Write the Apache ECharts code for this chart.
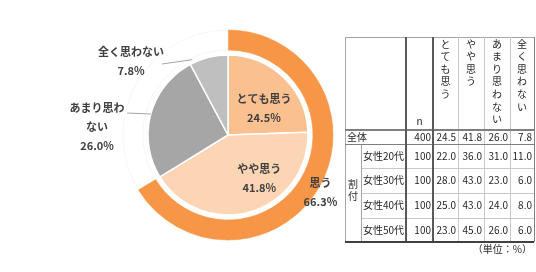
<!DOCTYPE html>
<html><head><meta charset="utf-8">
<script src="https://cdn.jsdelivr.net/npm/echarts@6/dist/echarts.min.js"></script>
<style>html,body{margin:0;padding:0;background:#fff}#c{width:536px;height:272px}</style>
</head><body><div id="c"></div>
<script>
// ---------- DATA ----------
const categories = ['とても思う', 'やや思う', 'あまり思わない', '全く思わない'];
const pieLabels = ['とても思う', 'やや思う', 'あまり思わ\nない', '全く思わない'];
const overall = [24.5, 41.8, 26.0, 7.8];
const ringNames = ['思う', ''];
const ringValues = [66.3, 33.7];
const overallName = '全体';
const overallN = 400;
const breakdownName = '割付';
const groups = ['女性20代', '女性30代', '女性40代', '女性50代'];
const groupN = [100, 100, 100, 100];
const female20 = [22.0, 36.0, 31.0, 11.0];
const female30 = [28.0, 43.0, 23.0, 6.0];
const female40 = [25.0, 43.0, 24.0, 8.0];
const female50 = [23.0, 45.0, 26.0, 6.0];
const nLabel = 'n';
const unitNote = '（単位：%）';

// ---------- STYLE / LAYOUT ----------
const FONT = "'Noto Sans CJK JP', sans-serif";
const INNER_COLORS = ['#FAC090', '#FCD5B5', '#A6A6A6', '#BFBFBF'];
const RING_COLORS = ['#F79646', '#FFFFFF'];
const PIE_CENTER = [228, 135];
const PIE_R = 80;
const INNER_LABEL_ADJ = [
  {dx: 6, dy: 4},
  {dx: 19, dy: 2},
  {x: 97, y: 127, align: 'center', verticalAlign: 'middle'},
  {x: 131, y: 61, align: 'center', verticalAlign: 'middle'}
];
// leader-line start offsets relative to label anchor, and fraction of the way to the slice edge
const LEADER = [null, null, {sx: 30, sy: -14, t: 1.0}, {sx: 31, sy: 3, t: 0.65}];
// table column / row edges in table units (grid spans 189 x 205)
const COL = [0, 16, 61, 88, 113, 139, 165, 189];
const ROW = [0, 93, 107, 131, 156, 181, 205];

const groupRows = [female20, female30, female40, female50];

// build cell list
const cells = [];
categories.forEach((c, i) => cells.push({c: 3 + i, r: 0, text: c.split('').join('\n'), align: 'center', valign: 'top', lh: 12.6}));
cells.push({c: 2, r: 0, text: nLabel, align: 'center', valign: 'bottom'});
cells.push({c: 0, c2: 2, r: 1, text: overallName, align: 'left'});
cells.push({c: 2, r: 1, text: String(overallN), align: 'right'});
overall.forEach((v, i) => cells.push({c: 3 + i, r: 1, text: v.toFixed(1), align: 'right'}));
cells.push({c: 0, r: 2, r2: 6, text: breakdownName.split('').join('\n'), align: 'center', lh: 12, dy: -3});
groups.forEach((g, gi) => {
  cells.push({c: 1, r: 2 + gi, text: g, align: 'left'});
  cells.push({c: 2, r: 2 + gi, text: String(groupN[gi]), align: 'right'});
  groupRows[gi].forEach((v, i) => cells.push({c: 3 + i, r: 2 + gi, text: v.toFixed(1), align: 'right'}));
});

const lines = [
  {x: [0, 7], y: [0, 0], color: '#a6a6a6', w: 1},
  {x: [0, 0], y: [0, 6], color: '#a6a6a6', w: 1},
  {x: [7, 7], y: [0, 6], color: '#7f7f7f', w: 1},
  {x: [4, 4], y: [0, 6], color: '#c8c8c8', w: 1},
  {x: [5, 5], y: [0, 6], color: '#c8c8c8', w: 1},
  {x: [6, 6], y: [0, 6], color: '#c8c8c8', w: 1},
  {x: [1, 7], y: [3, 3], color: '#c8c8c8', w: 1},
  {x: [1, 7], y: [4, 4], color: '#c8c8c8', w: 1},
  {x: [1, 7], y: [5, 5], color: '#c8c8c8', w: 1},
  {x: [1, 1], y: [2, 6], color: '#a6a6a6', w: 1},
  {x: [0, 7], y: [2, 2], color: '#7f7f7f', w: 1},
  {x: [0, 7], y: [1, 1], color: '#7f7f7f', w: 2},
  {x: [2, 2], y: [0, 6], color: '#595959', w: 2},
  {x: [3, 3], y: [0, 6], color: '#595959', w: 2},
  {x: [0, 7], y: [6, 6], color: '#404040', w: 2}
];

function crisp(v, w) { return w % 2 === 1 ? Math.round(v) + 0.5 : Math.round(v); }

function renderLines(params, api) {
  return {
    type: 'group',
    children: lines.map(l => {
      const p0 = api.coord([COL[l.x[0]], ROW[l.y[0]]]);
      const p1 = api.coord([COL[l.x[1]], ROW[l.y[1]]]);
      const vertical = l.x[0] === l.x[1];
      return {
        type: 'line',
        shape: vertical
          ? {x1: crisp(p0[0], l.w), y1: p0[1], x2: crisp(p1[0], l.w), y2: p1[1]}
          : {x1: p0[0], y1: crisp(p0[1], l.w), x2: p1[0], y2: crisp(p1[1], l.w)},
        style: {stroke: l.color, lineWidth: l.w}
      };
    })
  };
}

function renderCell(params, api) {
  const cell = cells[params.dataIndex];
  const c2 = cell.c2 != null ? cell.c2 : cell.c + 1;
  const r2 = cell.r2 != null ? cell.r2 : cell.r + 1;
  const p0 = api.coord([COL[cell.c], ROW[cell.r]]);
  const p1 = api.coord([COL[c2], ROW[r2]]);
  let x, y, va = 'middle';
  if (cell.align === 'left') x = p0[0] + 2;
  else if (cell.align === 'right') x = p1[0] - 2;
  else x = (p0[0] + p1[0]) / 2;
  if (cell.valign === 'top') { y = p0[1] + 0.5; va = 'top'; }
  else if (cell.valign === 'bottom') { y = p1[1] - 3; va = 'bottom'; }
  else y = (p0[1] + p1[1]) / 2 + (cell.dy || 0);
  return {
    type: 'text',
    style: {
      x: x, y: y, text: cell.text, align: cell.align, verticalAlign: va,
      fontSize: 10, fontFamily: FONT, fill: '#262626', lineHeight: cell.lh || 12
    }
  };
}

// slice mid-angle edge point, from the data
function sliceEdge(idx) {
  const total = overall.reduce((a, b) => a + b, 0);
  let cum = 0;
  for (let i = 0; i < idx; i++) cum += overall[i];
  const ang = (90 - 360 * (cum + overall[idx] / 2) / total) * Math.PI / 180;
  return [PIE_CENTER[0] + PIE_R * Math.cos(ang), PIE_CENTER[1] - PIE_R * Math.sin(ang)];
}

// leader lines for the outside labels
function renderLeader(params, api) {
  const idx = api.value(0);
  const adj = INNER_LABEL_ADJ[idx];
  const ld = LEADER[idx];
  const edge = sliceEdge(idx);
  const s = [adj.x + ld.sx, adj.y + ld.sy];
  const e = [s[0] + ld.t * (edge[0] - s[0]), s[1] + ld.t * (edge[1] - s[1])];
  return {
    type: 'line',
    shape: {x1: s[0], y1: s[1], x2: e[0], y2: e[1]},
    style: {stroke: '#a6a6a6', lineWidth: 1}
  };
}

const chart = echarts.init(document.getElementById('c'), null, {renderer: 'canvas'});
chart.setOption({
  backgroundColor: '#fff',
  animation: false,
  grid: {left: 345, top: 37, width: 189, height: 205, show: false},
  xAxis: {type: 'value', min: 0, max: 189, show: false},
  yAxis: {type: 'value', min: 0, max: 205, inverse: true, show: false},
  graphic: [{
    type: 'text', right: 4, top: 244,
    style: {text: unitNote, fontSize: 10, fontFamily: FONT, fill: '#262626'}
  }],
  series: [
    {
      type: 'pie', center: PIE_CENTER, radius: [85, 105], startAngle: 90, clockwise: true,
      silent: true,
      itemStyle: {borderWidth: 0.6},
      label: {
        show: true, position: 'inside', color: '#404040', fontSize: 11, fontWeight: 'bold', lineHeight: 19, fontFamily: FONT,
        formatter: p => p.dataIndex === 0 ? p.name + '\n' + p.value.toFixed(1) + '%' : ''
      },
      labelLine: {show: false},
      labelLayout: p => (p.dataIndex === 0 ? {dx: 7, dy: 9} : {}),
      data: ringValues.map((v, i) => ({name: ringNames[i], value: v, itemStyle: {color: RING_COLORS[i], borderColor: i === 0 ? RING_COLORS[0] : '#f0f0f0'}}))
    },
    {
      type: 'pie', center: PIE_CENTER, radius: [0, PIE_R], startAngle: 90, clockwise: true,
      silent: true,
      itemStyle: {borderColor: '#fff', borderWidth: 1.5},
      label: {
        show: true, position: 'inside', color: '#404040', fontSize: 11, fontWeight: 'bold', lineHeight: 19, fontFamily: FONT,
        formatter: p => pieLabels[p.dataIndex] + '\n' + p.value.toFixed(1) + '%'
      },
      labelLine: {show: false},
      labelLayout: p => INNER_LABEL_ADJ[p.dataIndex],
      data: categories.map((n, i) => {
        const d = {name: n, value: overall[i], itemStyle: {color: INNER_COLORS[i]}};
        if (i >= 2) d.label = {position: 'outside'};
        return d;
      })
    },
    {
      type: 'custom', coordinateSystem: 'none', silent: true, z: 3,
      renderItem: renderLeader, data: [[2], [3]]
    },
    {
      type: 'custom', coordinateSystem: 'cartesian2d', silent: true, z: 1,
      renderItem: renderLines, data: [[0, 0]]
    },
    {
      type: 'custom', coordinateSystem: 'cartesian2d', silent: true, z: 2,
      renderItem: renderCell, data: cells.map(c => [COL[c.c], ROW[c.r]])
    }
  ]
});
</script></body></html>
